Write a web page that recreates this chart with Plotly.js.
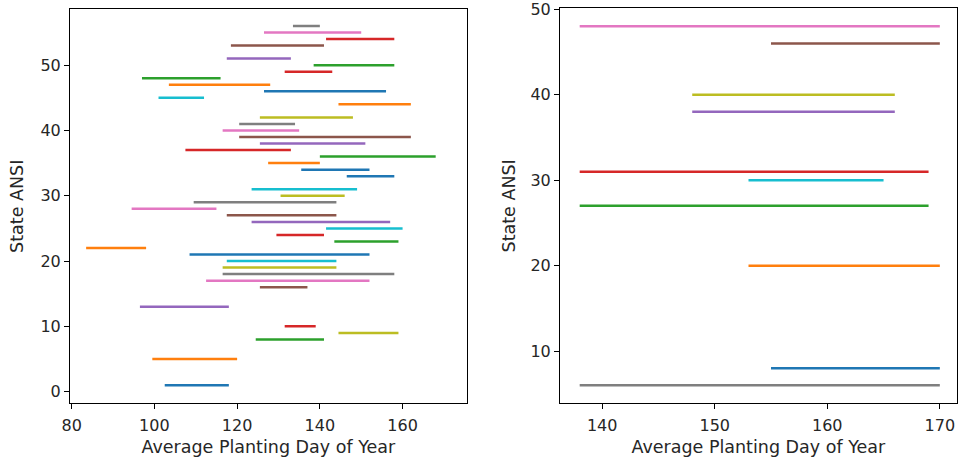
<!DOCTYPE html>
<html>
<head>
<meta charset="utf-8">
<script src="https://cdn.plot.ly/plotly-3.0.1.min.js"></script>
<style>html,body{margin:0;padding:0;background:#fff;}#chart{width:960px;height:465px;}</style>
</head>
<body>
<div id="chart"></div>
<script>
// Left panel data: state ANSI code, start day, end day
const leftStates = [1, 5, 8, 9, 10, 13, 16, 17, 18, 19, 20, 21, 22, 23, 24, 25, 26, 27, 28, 29, 30, 31, 33, 34, 35, 36, 37, 38, 39, 40, 41, 42, 44, 45, 46, 47, 48, 49, 50, 51, 53, 54, 55, 56];
const leftStart  = [102.5, 99.5, 124.5, 144.5, 131.5, 96.5, 125.5, 112.5, 116.5, 116.5, 117.5, 108.5, 83.5, 143.5, 129.5, 141.5, 123.5, 117.5, 94.5, 109.5, 130.5, 123.5, 146.5, 135.5, 127.5, 140, 107.5, 125.5, 120.5, 116.5, 120.5, 125.5, 144.5, 101, 126.5, 103.5, 97, 131.5, 138.5, 117.5, 118.5, 141.5, 126.5, 133.5];
const leftEnd    = [118, 120, 141, 159, 139, 118, 137, 152, 158, 144, 144, 152, 98, 159, 141, 160, 157, 144, 115, 144, 146, 149, 158, 152, 140, 168, 133, 151, 162, 135, 134, 148, 162, 112, 156, 128, 116, 143, 158, 133, 141, 158, 150, 140];
const leftColor  = [0, 1, 2, 8, 3, 4, 5, 6, 7, 8, 9, 0, 1, 2, 3, 9, 4, 5, 6, 7, 8, 9, 0, 0, 1, 2, 3, 4, 5, 6, 7, 8, 1, 9, 0, 1, 2, 3, 2, 4, 5, 3, 6, 7];

// Right panel data
const rightStates = [6, 8, 20, 27, 30, 31, 38, 40, 46, 48];
const rightStart  = [138, 155, 153, 138, 153, 138, 148, 148, 155, 138];
const rightEnd    = [170, 170, 170, 169, 165, 169, 166, 166, 170, 170];
const rightColor  = [7, 0, 1, 2, 9, 3, 4, 8, 5, 6];

const palette = ['#1f77b4','#ff7f0e','#2ca02c','#d62728','#9467bd','#8c564b','#e377c2','#7f7f7f','#bcbd22','#17becf'];

const traces = [];
leftStates.forEach((s, i) => {
  traces.push({x:[leftStart[i], leftEnd[i]], y:[s, s], mode:'lines', type:'scatter',
    line:{color:palette[leftColor[i]], width:2.5}, xaxis:'x', yaxis:'y', showlegend:false, hoverinfo:'x+y'});
});
rightStates.forEach((s, i) => {
  traces.push({x:[rightStart[i], rightEnd[i]], y:[s, s], mode:'lines', type:'scatter',
    line:{color:palette[rightColor[i]], width:2.5}, xaxis:'x2', yaxis:'y2', showlegend:false, hoverinfo:'x+y'});
});

const tickFont = {family:'DejaVu Sans, sans-serif', size:16, color:'#262626'};
const titleFont = {family:'DejaVu Sans, sans-serif', size:17.5, color:'#262626'};
const axBase = {showline:true, mirror:true, linecolor:'#000', linewidth:1, ticks:'outside', ticklen:5,
  tickcolor:'#000', tickwidth:1, showgrid:false, zeroline:false, tickfont:tickFont, ticklabeloverflow:'allow'};

// plot area: top margin 5px, height 460px
const layout = {
  width:960, height:465, margin:{l:0, r:0, t:5, b:0},
  paper_bgcolor:'#fff', plot_bgcolor:'#fff', font:tickFont, showlegend:false,
  xaxis: Object.assign({}, axBase, {domain:[70/960, 466.7/960], range:[79.6, 175.5], tickvals:[80,100,120,140,160],
    ticklabelstandoff:2, title:{text:'Average Planting Day of Year', font:titleFont, standoff:7}, anchor:'y'}),
  yaxis: Object.assign({}, axBase, {domain:[61.7/460, 455.7/460], range:[-1.78, 58.55], tickvals:[0,10,20,30,40,50],
    title:{text:'State ANSI', font:titleFont, standoff:12}, anchor:'x'}),
  xaxis2: Object.assign({}, axBase, {domain:[560/960, 956.7/960], range:[136.25, 171.5], tickvals:[140,150,160,170],
    ticklabelstandoff:2, title:{text:'Average Planting Day of Year', font:titleFont, standoff:7}, anchor:'y2'}),
  yaxis2: Object.assign({}, axBase, {domain:[61.7/460, 456.6/460], range:[3.9, 50.1], tickvals:[10,20,30,40,50],
    title:{text:'State ANSI', font:titleFont, standoff:10}, anchor:'x2'})
};

Plotly.newPlot('chart', traces, layout, {staticPlot:true, displayModeBar:false});
</script>
</body>
</html>
